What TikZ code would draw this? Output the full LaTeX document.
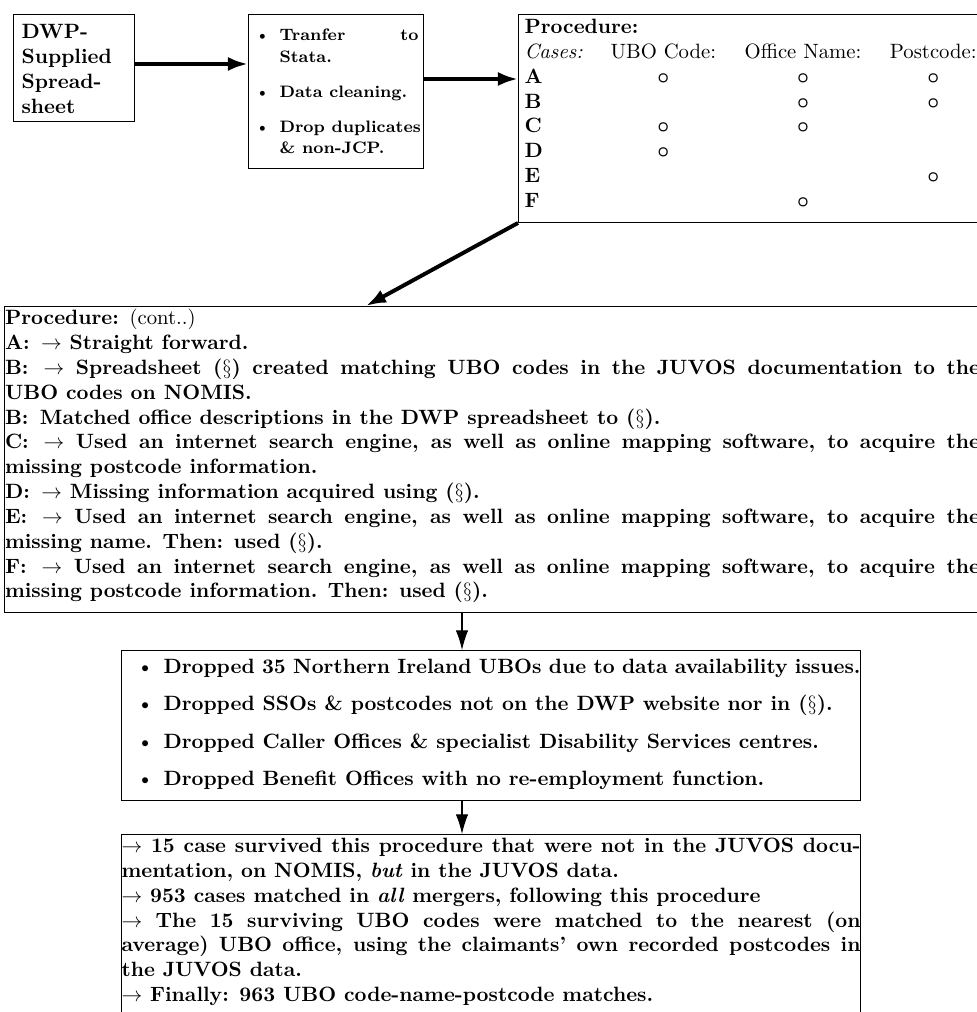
\documentclass[tikz,border=0pt]{standalone}
\usepackage{tikz}
\usepackage{bm}
\usetikzlibrary{arrows.meta}
\tikzset{
	box/.style={draw, line width=0.5pt, anchor=north west, font=\bfseries},
	bigarrow/.style={line width=1.9pt, -{Latex[length=9.7pt,width=6.8pt]}},
	smallarrow/.style={line width=0.5pt, -{Latex[length=9.5pt,width=6pt]}}
}
\newcommand{\hit}{$\bm{\circ}$}

\begin{document}
\begin{tikzpicture}[x=0.4831pt,y=-0.4831pt]
	%%%%% START %%%%%
	\useasboundingbox (0,0) rectangle (976,1012);
	
	\node[box, inner xsep=3.9pt, inner ysep=4.8pt] (dwp) at (13,14)
		{\parbox[t][42.1pt][t]{50.7pt}{\raggedright DWP-\\Supplied\\Spread-\\sheet}};
	
	\node[box, inner xsep=2.4pt, inner ysep=7.1pt] (clean) at (248,14)
		{\begin{minipage}[t][60.2pt][t]{79.7pt}\fontsize{8pt}{10.4pt}\selectfont\bfseries
			\setlength{\leftmargini}{12.6pt}
			\begin{itemize}\setlength{\itemsep}{6.5pt}\setlength{\parskip}{0pt}\setlength{\parsep}{0pt}
				\item Tranfer to\linebreak Stata.
				\item Data cleaning.
				\item \makebox[\linewidth][l]{Drop duplicates}\\ \& non-JCP.
			\end{itemize}
		\end{minipage}};
	
	\node[box, inner xsep=2.9pt, inner ysep=0.8pt] (cases) at (518,14)
		{\setlength{\tabcolsep}{6.9pt}%
		\begin{tabular}{@{}p{27.8pt}ccc@{}}
			\multicolumn{4}{@{}l}{Procedure:}\\
			\mdseries\textit{Cases:} & \mdseries UBO Code: & \mdseries Office Name: & \mdseries Postcode:\\
			A & \hit & \hit & \hit\\
			B & & \hit & \hit\\
			C & \hit & \hit & \\
			D & \hit & & \\
			E & & & \hit\\
			F & & \hit & \\[2.85pt]
		\end{tabular}};
	
	\node[box, inner xsep=0.25pt, inner ysep=1.3pt] (proc) at (4,306)
		{\parbox[t][145.2pt][t]{471pt}{Procedure: {\mdseries (cont..)}\\
			A: \,$\rightarrow$ Straight forward.\\
			B: \,$\rightarrow$ Spreadsheet ($\S$) created matching UBO codes in the JUVOS documentation to the\linebreak UBO codes on NOMIS.\\
			B: \,Matched office descriptions in the DWP spreadsheet to ($\S$).\\
			C: \,$\rightarrow$ Used an internet search engine, as well as online mapping software, to acquire the\linebreak missing postcode information.\\
			D: \,$\rightarrow$ Missing information acquired using ($\S$).\\
			E: \,$\rightarrow$ Used an internet search engine, as well as online mapping software, to acquire the\linebreak missing name. Then: used ($\S$).\\
			F: \,$\rightarrow$ Used an internet search engine, as well as online mapping software, to acquire the\linebreak missing postcode information. Then: used ($\S$).}};
	
	\node[box, inner xsep=0pt, inner ysep=4.2pt] (drop) at (121,650)
		{\begin{minipage}[t][64.1pt][t]{357pt}
			\setlength{\leftmargini}{20.3pt}
			\begin{itemize}\setlength{\itemsep}{6pt}\setlength{\parskip}{0pt}\setlength{\parsep}{0pt}
				\item Dropped 35 Northern Ireland UBOs due to data availability issues.
				\item Dropped SSOs \& postcodes not on the DWP website nor in ($\S$).
				\item Dropped Caller Offices \& specialist Disability Services centres.
				\item Dropped Benefit Offices with no re-employment function.
			\end{itemize}
		\end{minipage}};
	
	\node[box, inner xsep=0pt, inner ysep=1.75pt] (final) at (121,834)
		{\parbox[t][95pt][t]{357pt}{$\rightarrow$ 15 case survived this procedure that were not in the JUVOS documentation, on NOMIS, \textit{but} in the JUVOS data.\\
			$\rightarrow$ 953 cases matched in \textit{all} mergers, following this procedure\\
			$\rightarrow$ The 15 surviving UBO codes were matched to the nearest (on\linebreak average) UBO office, using the claimants' own recorded postcodes in\linebreak the JUVOS data.\\
			$\rightarrow$ Finally: 963 UBO code-name-postcode matches.}};
	
	\coordinate (lvl1) at (0,64);
	\coordinate (lvl2) at (0,79);
	\coordinate (hitpt) at (366,0);
	\coordinate (mid) at (462,0);
	
	\draw[bigarrow] (dwp.east |- lvl1) -- (clean.west |- lvl1);
	\draw[bigarrow] (clean.east |- lvl2) -- (cases.west |- lvl2);
	\draw[bigarrow] (cases.south west) -- (proc.north -| hitpt);
	\draw[smallarrow] (proc.south -| mid) -- (drop.north -| mid);
	\draw[smallarrow] (drop.south -| mid) -- (final.north -| mid);
	%%%%% END %%%%%
\end{tikzpicture}
\end{document}
